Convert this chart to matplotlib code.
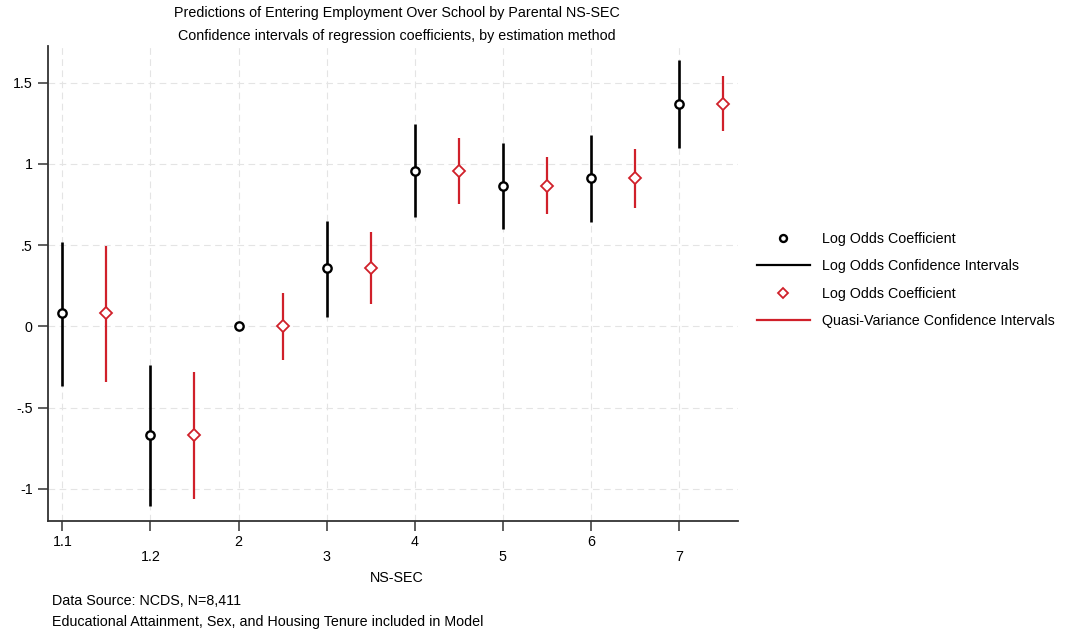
import matplotlib
matplotlib.use("Agg")
import matplotlib.pyplot as plt
from matplotlib.lines import Line2D
import numpy as np

plt.rcParams['font.family'] = ['Liberation Sans', 'DejaVu Sans']

categories = ["1.1", "1.2", "2", "3", "4", "5", "6", "7"]
lo_coef = [0.08, -0.667, 0.0, 0.357, 0.957, 0.866, 0.914, 1.37]
lo_upper = [0.52, -0.24, np.nan, 0.648, 1.245, 1.128, 1.175, 1.638]
lo_lower = [-0.365, -1.105, np.nan, 0.057, 0.671, 0.60, 0.642, 1.10]
qv_coef = [0.08, -0.667, 0.0, 0.357, 0.957, 0.866, 0.914, 1.37]
qv_upper = [0.495, -0.283, 0.204, 0.582, 1.156, 1.04, 1.09, 1.54]
qv_lower = [-0.34, -1.065, -0.21, 0.136, 0.751, 0.69, 0.73, 1.20]
yticks = [-1, -0.5, 0, 0.5, 1, 1.5]
ytick_labels = ["-1", "-.5", "0", ".5", "1", "1.5"]

RED = '#d0202a'
FS = 10.3

fig = plt.figure(figsize=(10.72, 6.33), dpi=100)
ax = fig.add_axes([0.0445, 0.1774, 0.644, 0.7504])

x = np.arange(1, len(categories) + 1)
xr = x + 0.5

ax.vlines(x, lo_lower, lo_upper, color='black', lw=1.9, zorder=3)
ax.plot(x, lo_coef, 'o', mfc='white', mec='black', ms=6, mew=1.7, ls='none', zorder=4)
ax.vlines(xr, qv_lower, qv_upper, color=RED, lw=1.6, zorder=3)
ax.plot(xr, qv_coef, 'D', mfc='white', mec=RED, ms=6, mew=1.3, ls='none', zorder=4)

ax.set_xlim(0.834, 8.67)
ax.set_ylim(-1.196, 1.727)
ax.set_xticks(x)
ax.set_xticklabels([c if i % 2 == 0 else "\n" + c for i, c in enumerate(categories)],
                   fontsize=FS, linespacing=1.1)
ax.set_yticks(yticks)
ax.set_yticklabels(ytick_labels, fontsize=FS)
ax.tick_params(axis='both', length=7.3, width=1.1, color='#333333')
ax.tick_params(axis='x', pad=3)
ax.tick_params(axis='y', pad=3.5)

ax.grid(True, color='#e4e4e4', ls=(0, (6, 4)), lw=0.8)
ax.set_axisbelow(True)
for s in ['top', 'right']:
    ax.spines[s].set_visible(False)
for s in ['left', 'bottom']:
    ax.spines[s].set_linewidth(1.3)
    ax.spines[s].set_color('#333333')

fig.text(397 / 1072, 1 - 13 / 633, "Predictions of Entering Employment Over School by Parental NS-SEC",
         ha='center', va='center', fontsize=FS)
fig.text(397 / 1072, 1 - 36 / 633, "Confidence intervals of regression coefficients, by estimation method",
         ha='center', va='center', fontsize=FS)
fig.text(397 / 1072, 1 - 578 / 633, "NS-SEC", ha='center', va='center', fontsize=FS)
fig.text(52 / 1072, 1 - 601 / 633, "Data Source: NCDS, N=8,411", ha='left', va='center', fontsize=FS)
fig.text(52 / 1072, 1 - 622 / 633, "Educational Attainment, Sex, and Housing Tenure included in Model",
         ha='left', va='center', fontsize=FS)

handles = [
    Line2D([], [], marker='o', ls='none', mfc='white', mec='black', ms=5, mew=1.7),
    Line2D([], [], color='black', lw=1.6),
    Line2D([], [], marker='D', ls='none', mfc='white', mec=RED, ms=5, mew=1.3),
    Line2D([], [], color=RED, lw=1.6),
]
labels = ["Log Odds Coefficient", "Log Odds Confidence Intervals",
          "Log Odds Coefficient", "Quasi-Variance Confidence Intervals"]
fig.legend(handles, labels, loc='center left', bbox_to_anchor=(757 / 1072, 1 - 280 / 633),
           frameon=False, fontsize=FS, handlelength=3.7, handletextpad=0.85,
           labelspacing=0.95, borderpad=0, borderaxespad=0)

fig.savefig("out.png", dpi=100)
